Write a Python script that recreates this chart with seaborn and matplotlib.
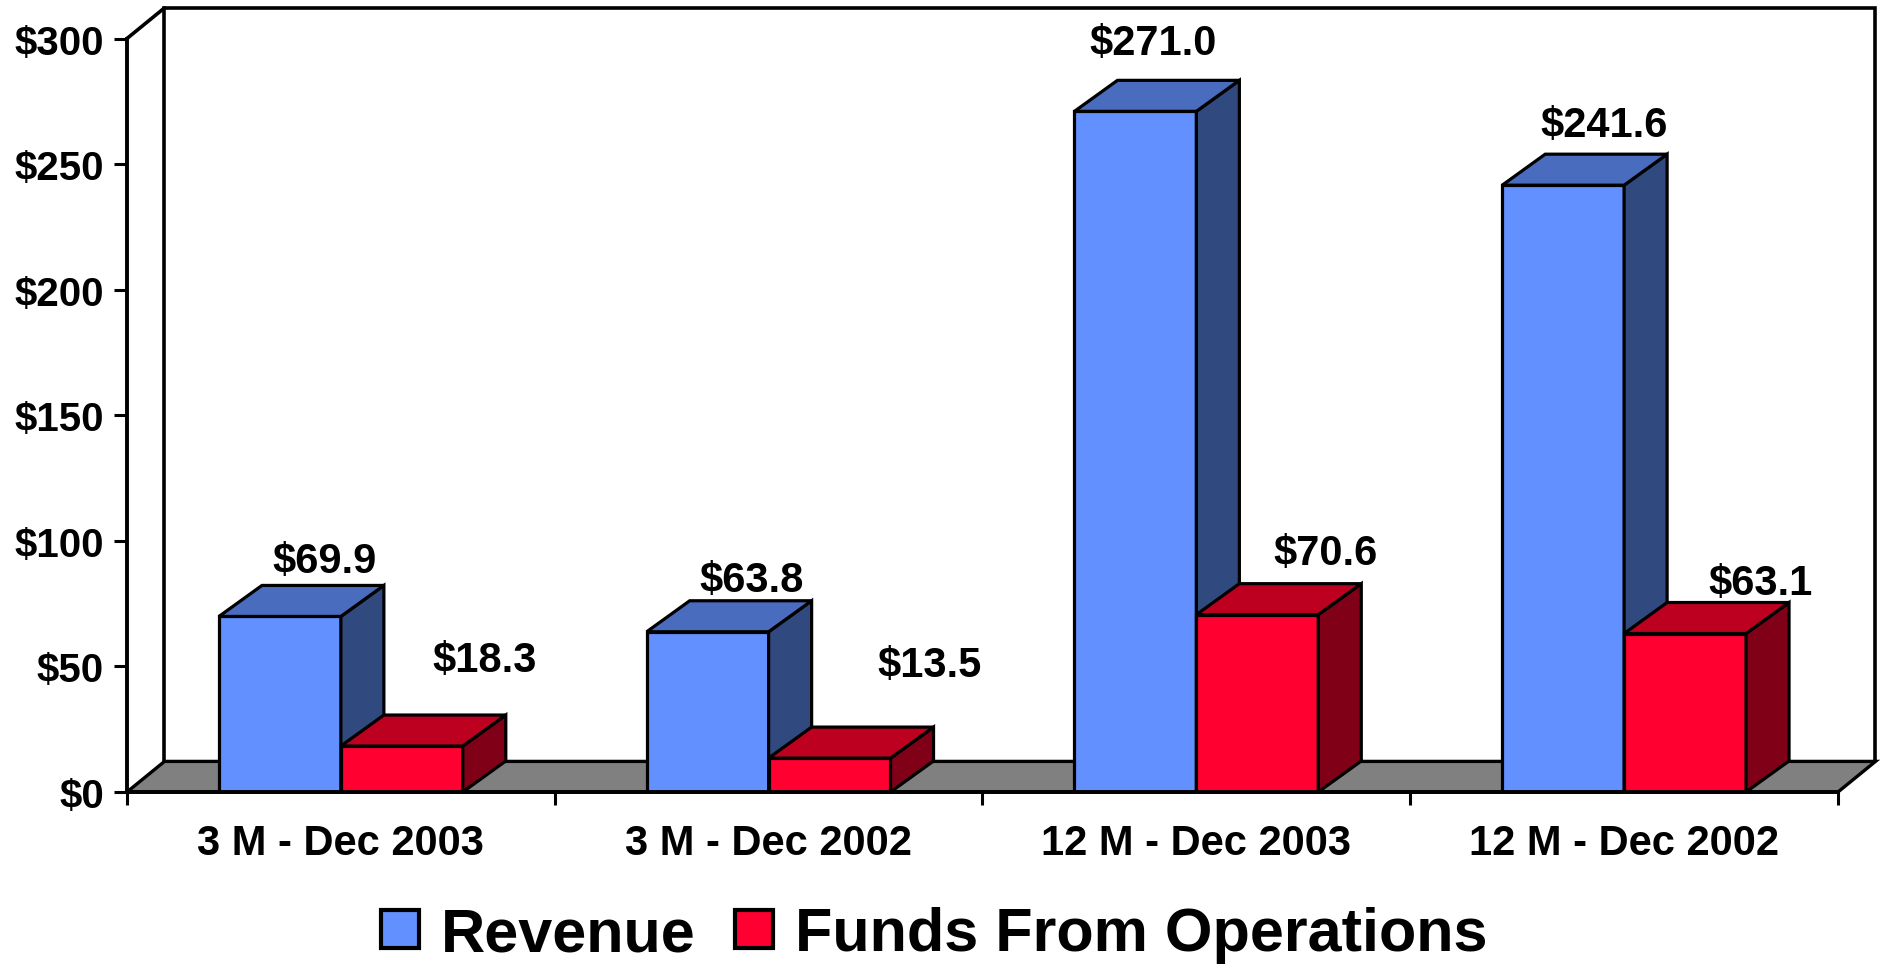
import numpy as np
import pandas as pd
import seaborn as sns
import matplotlib
matplotlib.use("Agg")
import matplotlib.pyplot as plt
from matplotlib.patches import Polygon, Patch
from matplotlib.ticker import FuncFormatter

# ---- data ----
categories = ["3 M - Dec 2003", "3 M - Dec 2002", "12 M - Dec 2003", "12 M - Dec 2002"]
series_names = ["Revenue", "Funds From Operations"]
revenue = [69.9, 63.8, 271.0, 241.6]
ffo = [18.3, 13.5, 70.6, 63.1]
y_ticks = [0, 50, 100, 150, 200, 250, 300]

# ---- style ----
front_cols = ["#6390FF", "#FF0030"]
top_cols = ["#4A6CBE", "#BE0020"]
side_cols = ["#30497F", "#7F0017"]
floor_col = "#808080"
# label offsets (pixels, x right / y down) from the centre of each bar's back top edge
label_off = {
    "Revenue": [(2, -24), (1, -21), (-25, -37), (-2, -29)],
    "Funds From Operations": [(40, -55), (57, -62), (25, -31), (32, -20)],
}

sns.set_theme(style="white")
plt.rcParams["font.family"] = ["Liberation Sans", "DejaVu Sans"]
plt.rcParams["font.weight"] = "bold"
plt.rcParams["text.color"] = "black"
plt.rcParams["xtick.color"] = "black"
plt.rcParams["ytick.color"] = "black"
plt.rcParams["xtick.labelcolor"] = "black"
plt.rcParams["ytick.labelcolor"] = "black"
plt.rcParams["axes.labelcolor"] = "black"

W, H, DPI = 1883, 970, 100
fig = plt.figure(figsize=(W / DPI, H / DPI), dpi=DPI)
ax_left, ax_right = 127, 1838
ax_top, ax_bot = 39.5, 793
ax = fig.add_axes([ax_left / W, 1 - ax_bot / H, (ax_right - ax_left) / W, (ax_bot - ax_top) / H])

df = pd.DataFrame({
    "period": categories * 2,
    "series": [series_names[0]] * 4 + [series_names[1]] * 4,
    "value": revenue + ffo,
})

sns.barplot(data=df, x="period", y="value", hue="series", order=categories,
            hue_order=series_names, palette=front_cols, width=0.57,
            edgecolor="black", linewidth=2.3, saturation=1, ax=ax, legend=False)

ax.set_xlim(-0.5, 3.5)
ax.set_ylim(0, 300)

px_per_x = (ax_right - ax_left) / 4.0
px_per_y = (ax_bot - ax_top) / 300.0
# depth of bars and of the wall/floor (pixels -> data)
dxb, dyb = 43 / px_per_x, 31 / px_per_y
dxw, dyw = 37.5 / px_per_x, 30.6 / px_per_y

# floor and back wall
floor = Polygon([(-0.5, 0), (3.5, 0), (3.5 + dxw, dyw), (-0.5 + dxw, dyw)], closed=True,
                facecolor=floor_col, edgecolor="black", linewidth=2.4, zorder=0.5, clip_on=False)
ax.add_patch(floor)
wall_x = [-0.5 + dxw, -0.5 + dxw, 3.5 + dxw, 3.5 + dxw]
wall_y = [dyw, 300 + dyw, 300 + dyw, dyw]
ax.plot(wall_x, wall_y, color="black", lw=2.6, zorder=0.6, clip_on=False, solid_joinstyle="miter")
ax.plot([-0.5, -0.5 + dxw], [300, 300 + dyw], color="black", lw=2.6, zorder=0.6, clip_on=False)

# 3D sides and tops for each bar
bars = [p for p in list(ax.patches) if p is not floor]
values_by_series = [revenue, ffo]
for si, name in enumerate(series_names):
    for ci in range(len(categories)):
        p = bars[si * len(categories) + ci]
        x0 = p.get_x()
        w = p.get_width()
        h = p.get_height()
        z = 2 + si
        p.set_zorder(z)
        p.set_facecolor(front_cols[si])
        side = Polygon([(x0 + w, 0), (x0 + w + dxb, dyb), (x0 + w + dxb, h + dyb), (x0 + w, h)],
                       closed=True, facecolor=side_cols[si], edgecolor="black", linewidth=2.3,
                       zorder=z, joinstyle="miter")
        top = Polygon([(x0, h), (x0 + w, h), (x0 + w + dxb, h + dyb), (x0 + dxb, h + dyb)],
                      closed=True, facecolor=top_cols[si], edgecolor="black", linewidth=2.3,
                      zorder=z, joinstyle="miter")
        ax.add_patch(side)
        ax.add_patch(top)
        ox, oy = label_off[name][ci]
        v = values_by_series[si][ci]
        ax.annotate(f"${v:.1f}", xy=(x0 + w / 2 + dxb, h + dyb),
                    xytext=(ox * 72 / DPI, -oy * 72 / DPI), textcoords="offset points",
                    ha="center", va="center", fontsize=30, fontweight="bold",
                    color="black", zorder=10, annotation_clip=False)

# spines / axes
for s in ["top", "right"]:
    ax.spines[s].set_visible(False)
for s in ["left", "bottom"]:
    ax.spines[s].set_linewidth(2.8)
    ax.spines[s].set_color("black")
    ax.spines[s].set_zorder(6)

ax.set_yticks(y_ticks)
ax.yaxis.set_major_formatter(FuncFormatter(lambda v, pos: f"${v:.0f}"))
ax.tick_params(axis="y", which="major", direction="out", length=9.5, width=2.2,
               color="black", labelcolor="black", labelsize=29, pad=7, left=True)
for lab in ax.get_yticklabels():
    lab.set_fontweight("bold")

ax.set_xticks(range(len(categories)))
ax.set_xticklabels(categories, fontsize=30, fontweight="bold", color="black")
ax.tick_params(axis="x", which="major", length=0, pad=22, labelcolor="black")
ax.set_xticks([-0.5, 0.5, 1.5, 2.5, 3.5], minor=True)
ax.tick_params(axis="x", which="minor", direction="out", length=9.5, width=2.2,
               color="black", bottom=True)
ax.set_xlabel("")
ax.set_ylabel("")
ax.grid(False)

# legend
handles = [Patch(facecolor=front_cols[i], edgecolor="black", linewidth=3, label=series_names[i])
           for i in range(2)]
leg = fig.legend(handles=handles, loc="center", bbox_to_anchor=(934 / W, 1 - 936 / H),
                 ncol=2, frameon=False, prop={"size": 44, "weight": "bold"},
                 handlelength=0.62, handleheight=0.6, handletextpad=0.36, columnspacing=0.64,
                 borderpad=0, borderaxespad=0, labelcolor="black")

fig.savefig("out.png", dpi=DPI)
